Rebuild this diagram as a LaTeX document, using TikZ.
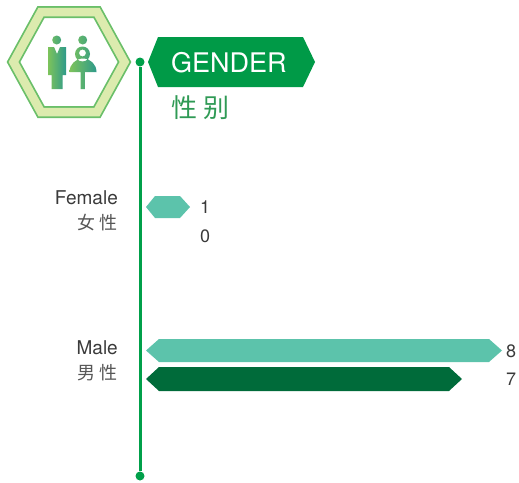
\documentclass[tikz,border=0pt]{standalone}
\usepackage{fontspec}
\setmainfont{TeX Gyre Heros}
\newfontfamily\cjk{Noto Sans CJK SC}
\usetikzlibrary{positioning}
\definecolor{bannergreen}{HTML}{009A47}
\definecolor{axisgreen}{HTML}{00A04A}
\definecolor{zhgreen}{HTML}{2F9A55}
\definecolor{barteal}{HTML}{5CC3AB}
\definecolor{bardark}{HTML}{006B3A}
\definecolor{hexline}{HTML}{6ABF69}
\definecolor{hexband}{HTML}{DCEBAE}
\definecolor{iconleft}{HTML}{7DC35B}
\definecolor{iconright}{HTML}{2E9A8A}
\definecolor{labelgray}{HTML}{3A3A3A}
\tikzset{
  dot/.style={circle, fill=axisgreen, inner sep=0pt, minimum size=9pt},
  axis/.style={axisgreen, line width=3pt},
  cat/.style={text=labelgray, font=\fontsize{19}{19}\selectfont, anchor=base east, inner sep=0pt},
  catzh/.style={text=labelgray!85, font=\cjk\fontsize{18}{18}\selectfont, anchor=base east, inner sep=0pt},
  count/.style={text=labelgray, font=\fontsize{18}{18}\selectfont, anchor=base west, inner sep=0pt}
}
\begin{document}
\begin{tikzpicture}[x=1pt, y=-1pt]
  \useasboundingbox (0,0) rectangle (519,482);
  % badge
  \fill[white] (13.5,62) -- (41,12) -- (97,12) -- (124.5,62) -- (97,112) -- (41,112) -- cycle;
  \draw[hexline, line width=12pt] (13.5,62) -- (41,12) -- (97,12) -- (124.5,62) -- (97,112) -- (41,112) -- cycle;
  \draw[hexband, line width=8.5pt] (13.5,62) -- (41,12) -- (97,12) -- (124.5,62) -- (97,112) -- (41,112) -- cycle;
  % icon
  \shade[left color=iconleft, right color=iconright]
    (56.7,40) circle[radius=4.5]
    (48,47) -- (54,47) -- (57,54) -- (60,47) -- (66,47) -- (66,75) -- (62.5,75)
    -- (62.5,89) -- (51.5,89) -- (51.5,75) -- (48,75) -- cycle;
  \shade[left color=iconleft, right color=iconright, even odd rule]
    (82.7,40) circle[radius=4.5]
    (82.5,54) circle[radius=7.5] (82.5,53) circle[radius=3.5]
    (69.5,72) arc[start angle=180, end angle=360, radius=13.5] -- cycle
    (80.5,72) rectangle (84.8,89);
  % axis
  \node[dot] (top) at (140,62) {};
  \node[dot] (bottom) at (140,476) {};
  \draw[axis] (top) -- (bottom);
  % title
  \fill[bannergreen] (148,62) -- (158,37) -- (303,37) -- (315,62) -- (303,87) -- (158,87) -- cycle;
  \node[text=white, font=\fontsize{27}{27}\selectfont, anchor=base west, inner sep=0pt] (gender) at (171,72) {GENDER};
  \node[text=zhgreen, font=\cjk\fontsize{26}{26}\selectfont, anchor=base west, inner sep=0pt] (xingbie) at (171,117) {性\hspace{6pt}别};
  % female
  \fill[barteal] (146,207) -- (155,196) -- (180,196) -- (190,207) -- (180,218) -- (155,218) -- cycle;
  \node[cat] (female) at (118,204) {Female};
  \node[catzh] (femalezh) at (118,229) {女\hspace{4pt}性};
  \node[count] (female1) at (200,213) {1};
  \node[count] (female0) at (200,242) {0};
  % male
  \fill[barteal] (146,350.5) -- (159,339) -- (489,339) -- (502,350.5) -- (489,362) -- (159,362) -- cycle;
  \fill[bardark] (146,379) -- (159,367) -- (449,367) -- (462,379) -- (449,391) -- (159,391) -- cycle;
  \node[cat] (male) at (118,354) {Male};
  \node[catzh] (malezh) at (118,379) {男\hspace{4pt}性};
  \node[count] (male8) at (506,357) {8};
  \node[count] (male7) at (506,385) {7};
\end{tikzpicture}
\end{document}
